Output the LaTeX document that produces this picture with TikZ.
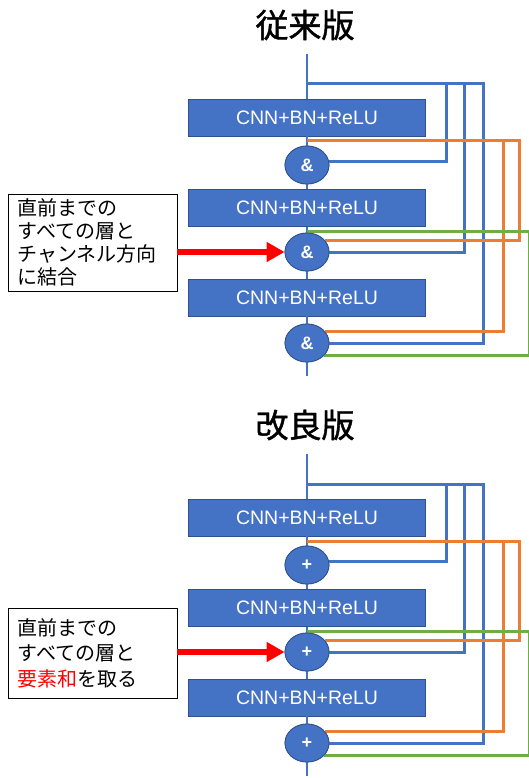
\documentclass[tikz,border=0pt]{standalone}
\usepackage{fontspec}
\newfontfamily\jp{Noto Sans CJK JP}
\newfontfamily\jpb{Noto Sans CJK JP}[FakeBold=1.2]
\newfontfamily\arial{Liberation Sans}
\usetikzlibrary{shapes.geometric,arrows.meta}
\definecolor{cblue}{HTML}{4472C4}
\definecolor{cbord}{HTML}{2F528F}
\definecolor{corange}{HTML}{ED7D31}
\definecolor{cgreen}{HTML}{70AD47}
\begin{document}
\begin{tikzpicture}[x=1pt,y=-1pt,
  layer/.style={rectangle, draw=cbord, line width=0.8pt, fill=cblue, text=white,
    font=\arial\fontsize{19.5}{22}\selectfont, minimum width=237pt, minimum height=37pt, inner sep=0pt},
  joinop/.style={ellipse, draw=cbord, line width=0.8pt, fill=cblue, text=white,
    font=\arial\bfseries\fontsize{18}{20}\selectfont, minimum width=44pt, minimum height=38pt, inner sep=0pt},
  spine/.style={cblue, line width=2.5pt},
  bl/.style={cblue, line width=3pt},
  ol/.style={corange, line width=3pt},
  gl/.style={cgreen, line width=3pt},
  note/.style={rectangle, draw=black, line width=0.9pt, fill=white, align=left,
    text width=150pt, minimum width=169pt, inner xsep=9.5pt},
  titletext/.style={font=\jpb\fontsize{33}{36}\selectfont},
  redarrow/.style={red, line width=6pt, -{Triangle[length=18pt,width=19pt]}}
]
\useasboundingbox (0,0) rectangle (528,778);

\node[titletext] (t1) at (305,25) {従来版};
\node[titletext] (t2) at (305,425) {改良版};

\foreach \off/\sym/\k in {0/\&/A,400/+/B} {
  \coordinate (\k top) at (307,54+\off);
  \coordinate (\k tb) at (307,84+\off);
  \coordinate (\k to) at (307,141+\off);
  \coordinate (\k tg) at (307,231+\off);
  \coordinate (\k bot) at (307,376+\off);
  \coordinate (\k c1) at (446,84+\off);
  \coordinate (\k c2) at (464,84+\off);
  \coordinate (\k c3) at (483,84+\off);
  \coordinate (\k c4) at (503,141+\off);
  \coordinate (\k c5) at (519,141+\off);
  \coordinate (\k c6) at (529,231+\off);

  \node[layer] (\k b1) at (307,117.5+\off) {CNN+BN+ReLU};
  \node[layer] (\k b2) at (307,208+\off) {CNN+BN+ReLU};
  \node[layer] (\k b3) at (307,297.5+\off) {CNN+BN+ReLU};
  \node[joinop] (\k e1) at (307,165+\off) {\sym};
  \node[joinop] (\k e2) at (307,252+\off) {\sym};
  \node[joinop] (\k e3) at (307,343+\off) {\sym};

  \draw[spine] (\k top) -- (\k b1);
  \draw[spine] (\k b1) -- (\k e1);
  \draw[spine] (\k e1) -- (\k b2);
  \draw[spine] (\k b2) -- (\k e2);
  \draw[spine] (\k e2) -- (\k b3);
  \draw[spine] (\k b3) -- (\k e3);
  \draw[spine] (\k e3) -- (\k bot);

  \draw[bl] (\k tb) -- (\k c3) -- (\k c3 |- \k e3.east) -- (\k e3.east);
  \draw[bl] (\k c2) -- (\k c2 |- \k e2.east) -- (\k e2.east);
  \draw[bl] (\k c1) -- (\k c1 |- \k e1.8) -- (\k e1.8);
  \draw[ol] (\k to) -- (\k c5) -- (\k c5 |- \k e2.31) -- (\k e2.31);
  \draw[ol] (\k c4) -- (\k c4 |- \k e3.31) -- (\k e3.31);
  \draw[gl] (\k tg) -- (\k c6) -- (\k c6 |- \k e3.-35) -- (\k e3.-35);

  \node[joinop] at (\k e1) {\sym};
  \node[joinop] at (\k e2) {\sym};
  \node[joinop] at (\k e3) {\sym};
}

\node[note, minimum height=97pt, font=\jp\fontsize{20}{23}\selectfont] (n1) at (92.5,242.5)
  {直前までの\\すべての層と\\チャンネル方向\\に結合};
\node[note, minimum height=90pt, font=\jp\fontsize{20}{25.5}\selectfont] (n2) at (92.5,653)
  {直前までの\\すべての層と\\\textcolor{red}{要素和}を取る};

\draw[redarrow] (n1.east |- Ae2.west) -- (Ae2.west);
\draw[redarrow] (n2.east |- Be2.west) -- (Be2.west);
\end{tikzpicture}
\end{document}
